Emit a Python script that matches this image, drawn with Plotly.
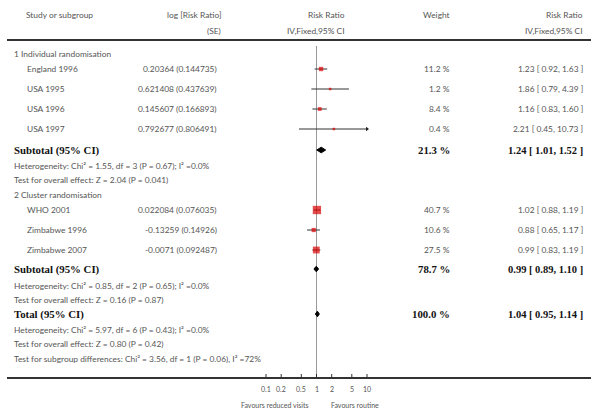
import math
import plotly.graph_objects as go

# ---------------- data ----------------
group_labels = ["1 Individual randomisation", "2 Cluster randomisation"]

g1_studies = ["England 1996", "USA 1995", "USA 1996", "USA 1997"]
g1_logse = ["0.20364 (0.144735)", "0.621408 (0.437639)", "0.145607 (0.166893)", "0.792677 (0.806491)"]
g1_weight = [11.2, 1.2, 8.4, 0.4]
g1_rr = [1.23, 1.86, 1.16, 2.21]
g1_lo = [0.92, 0.79, 0.83, 0.45]
g1_hi = [1.63, 4.39, 1.60, 10.73]

g2_studies = ["WHO 2001", "Zimbabwe 1996", "Zimbabwe 2007"]
g2_logse = ["0.022084 (0.076035)", "-0.13259 (0.14926)", "-0.0071 (0.092487)"]
g2_weight = [40.7, 10.6, 27.5]
g2_rr = [1.02, 0.88, 0.99]
g2_lo = [0.88, 0.65, 0.83]
g2_hi = [1.19, 1.17, 1.19]

sub_weight = [21.3, 78.7, 100.0]
sub_rr = [1.24, 0.99, 1.04]
sub_lo = [1.01, 0.89, 0.95]
sub_hi = [1.52, 1.10, 1.14]
sub_labels = ["Subtotal (95% CI)", "Subtotal (95% CI)", "Total (95% CI)"]

het_text = [
    "Heterogeneity: Chi² = 1.55, df = 3 (P = 0.67); I² =0.0%",
    "Heterogeneity: Chi² = 0.85, df = 2 (P = 0.65); I² =0.0%",
    "Heterogeneity: Chi² = 5.97, df = 6 (P = 0.43); I² =0.0%",
]
effect_text = [
    "Test for overall effect: Z = 2.04 (P = 0.041)",
    "Test for overall effect: Z = 0.16 (P = 0.87)",
    "Test for overall effect: Z = 0.80 (P = 0.42)",
]
subgroup_text = "Test for subgroup differences: Chi² = 3.56, df = 1 (P = 0.06), I² =72%"

tick_vals = [0.1, 0.2, 0.5, 1, 2, 5, 10]
tick_text = ["0.1", "0.2", "0.5", "1", "2", "5", "10"]
favours_left = "Favours reduced visits"
favours_right = "Favours routine"

# ---------------- layout constants (pixels) ----------------
W, H = 600, 413
X_ONE = 316.5          # pixel of RR = 1
DECADE = 50.5          # pixels per decade
x_range = [(0 - X_ONE) / DECADE, (W - X_ONE) / DECADE]
AX_MAX = 10

Y_HEAD1, Y_HEAD2, Y_RULE = 15, 31, 40
Y_G1 = 54
Y_G1_ROWS = [69, 89, 109, 129]
Y_SUB1, Y_HET1, Y_EFF1 = 150, 166, 180
Y_G2 = 195
Y_G2_ROWS = [210, 230, 250]
Y_SUB2, Y_HET2, Y_EFF2 = 269, 286, 300
Y_TOT, Y_HET3, Y_EFF3, Y_SUBG = 314, 330, 344, 359
Y_AXIS, Y_TICKLAB, Y_FAV = 378, 389, 405

X_STUDY, X_GROUP = 25, 12
X_LOG_R, X_RRH_R, X_W_R, X_RR_R = 219, 347, 452, 585

REG = "Lato, 'Open Sans', sans-serif"
SERIF = "'Liberation Serif', 'Times New Roman', serif"
GREY = "#555555"
FS = 8.4

fig = go.Figure()
ann = []


def px(x):
    return x / W


def text(x, y, s, anchor="left", size=FS, font=REG, color=GREY):
    ann.append(dict(x=px(x), y=y, xref="paper", yref="y", text=s, showarrow=False,
                    xanchor=anchor, yanchor="middle",
                    font=dict(family=font, size=size, color=color)))


# headers
text(24, Y_HEAD1, "Study or subgroup")
text(X_LOG_R + 4, Y_HEAD1, "log [Risk Ratio]", "right")
text(X_LOG_R + 4, Y_HEAD2, "(SE)", "right")
text(X_RRH_R, Y_HEAD1, "Risk Ratio", "right")
text(X_RRH_R, Y_HEAD2, "IV,Fixed,95% CI", "right")
text(X_W_R, Y_HEAD1, "Weight", "right")
text(X_RR_R, Y_HEAD1, "Risk Ratio", "right")
text(X_RR_R, Y_HEAD2, "IV,Fixed,95% CI", "right")

groups = [
    (g1_studies, g1_logse, g1_weight, g1_rr, g1_lo, g1_hi, Y_G1, Y_G1_ROWS),
    (g2_studies, g2_logse, g2_weight, g2_rr, g2_lo, g2_hi, Y_G2, Y_G2_ROWS),
]

ci_x, ci_y = [], []
sq_x, sq_y, sq_s = [], [], []
arr_x, arr_y = [], []
for gi, (names, logse, wts, rr, lo, hi, yg, rows) in enumerate(groups):
    text(X_GROUP, yg, group_labels[gi])
    for i, n in enumerate(names):
        y = rows[i]
        text(X_STUDY, y, n)
        text(X_LOG_R, y, logse[i], "right")
        text(X_W_R, y, f"{wts[i]:.1f} %", "right")
        text(X_RR_R, y, f"{rr[i]:.2f} [ {lo[i]:.2f}, {hi[i]:.2f} ]", "right")
        ci_x += [lo[i], min(hi[i], AX_MAX), None]
        ci_y += [y, y, None]
        if hi[i] > AX_MAX:
            arr_x.append(AX_MAX)
            arr_y.append(y)
        sq_x.append(rr[i])
        sq_y.append(y)
        sq_s.append(max(2.5, 1.3 * math.sqrt(wts[i])))

fig.add_trace(go.Scatter(x=ci_x, y=ci_y, mode="lines", line=dict(color="#333333", width=1),
                         hoverinfo="skip", showlegend=False))
fig.add_trace(go.Scatter(x=arr_x, y=arr_y, mode="markers",
                         marker=dict(symbol="triangle-right", size=4, color="#222222"),
                         hoverinfo="skip", showlegend=False))
fig.add_trace(go.Scatter(x=sq_x, y=sq_y, mode="markers",
                         marker=dict(symbol="square", size=sq_s, color="#dd0000", line=dict(width=0)),
                         hoverinfo="skip", showlegend=False))

# subtotals / total
sub_y = [Y_SUB1, Y_SUB2, Y_TOT]
het_y = [Y_HET1, Y_HET2, Y_HET3]
eff_y = [Y_EFF1, Y_EFF2, Y_EFF3]
dh = 2.8
for k in range(3):
    y = sub_y[k]
    text(X_GROUP, y, f"<b>{sub_labels[k]}</b>", size=10.8, font=SERIF, color="#111111")
    text(X_W_R, y, f"<b>{sub_weight[k]:.1f} %</b>", "right", size=10.8, font=SERIF, color="#111111")
    text(X_RR_R, y, f"<b>{sub_rr[k]:.2f} [ {sub_lo[k]:.2f}, {sub_hi[k]:.2f} ]</b>", "right",
         size=10.5, font=SERIF, color="#111111")
    text(X_GROUP, het_y[k], het_text[k])
    text(X_GROUP, eff_y[k], effect_text[k])
    fig.add_trace(go.Scatter(
        x=[sub_lo[k], sub_rr[k], sub_hi[k], sub_rr[k], sub_lo[k]],
        y=[y, y - dh, y, y + dh, y],
        mode="lines", fill="toself", fillcolor="#000000", line=dict(color="#000000", width=1),
        hoverinfo="skip", showlegend=False))
text(X_GROUP, Y_SUBG, subgroup_text)

# axis ticks
tk_x, tk_y = [], []
for v, t in zip(tick_vals, tick_text):
    tk_x += [v, v, None]
    tk_y += [Y_AXIS - 4, Y_AXIS, None]
    ann.append(dict(x=math.log10(v), y=Y_TICKLAB, xref="x", yref="y",
                    text=t, showarrow=False, xanchor="center", yanchor="middle",
                    font=dict(family=REG, size=7, color=GREY)))
fig.add_trace(go.Scatter(x=tk_x, y=tk_y, mode="lines", line=dict(color="#333333", width=1),
                         hoverinfo="skip", showlegend=False))
text(X_ONE - 6, Y_FAV, favours_left, "right", size=7)
text(X_ONE + 12, Y_FAV, favours_right, "left", size=7)

shapes = [
    dict(type="line", xref="paper", yref="y", x0=px(7), x1=px(591), y0=Y_RULE, y1=Y_RULE,
         line=dict(color="#333333", width=2)),
    dict(type="line", xref="paper", yref="y", x0=px(7), x1=px(591), y0=Y_AXIS, y1=Y_AXIS,
         line=dict(color="#333333", width=2)),
    dict(type="line", xref="x", yref="y", x0=1, x1=1, y0=Y_RULE + 6, y1=Y_AXIS,
         line=dict(color="#999999", width=1), layer="below"),
]

fig.update_layout(
    width=W, height=H, margin=dict(l=0, r=0, t=0, b=0),
    paper_bgcolor="white", plot_bgcolor="white",
    xaxis=dict(type="log", range=x_range, visible=False, domain=[0, 1], fixedrange=True),
    yaxis=dict(range=[H, 0], visible=False, domain=[0, 1], fixedrange=True),
    annotations=ann, shapes=shapes, showlegend=False, hovermode=False,
)

fig.write_html("out.html", config={"displayModeBar": False, "staticPlot": True},
               post_script="document.body.style.margin='0';")
